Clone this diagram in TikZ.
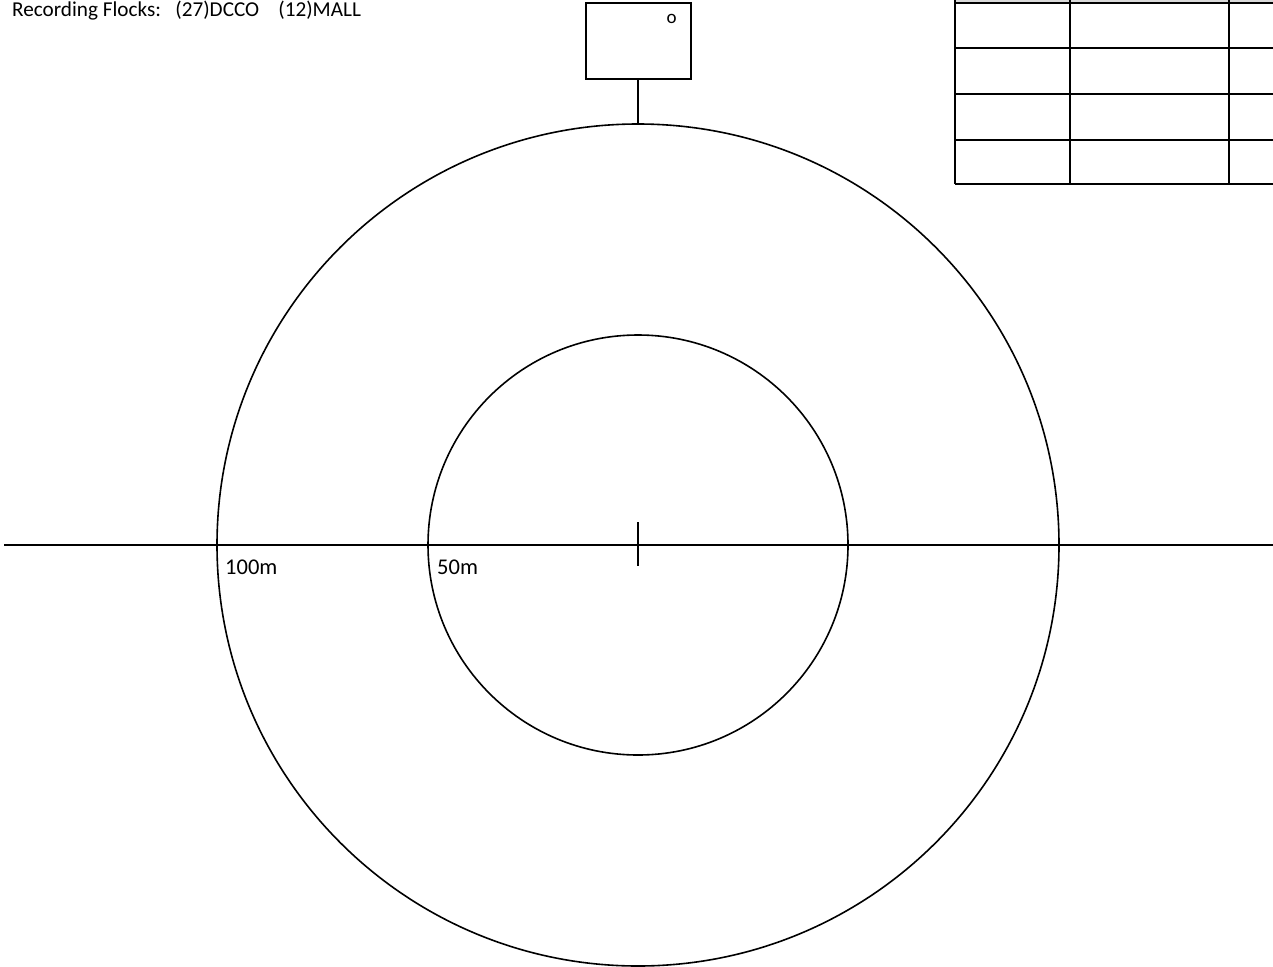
\documentclass[tikz,border=0pt]{standalone}
\usepackage{fontspec}
\setmainfont{Carlito}
\usetikzlibrary{positioning}

\begin{document}
\begin{tikzpicture}[
  x=1pt, y=-1pt,
  ring/.style={draw, circle, line width=1.6pt, inner sep=0pt, outer sep=0pt},
  label/.style={font=\fontsize{22.5}{26}\selectfont, anchor=base west, inner sep=0pt},
  cell/.style={line width=2pt}
]
\useasboundingbox (0,0) rectangle (1273,966);
\clip (0,0) rectangle (1273,966);

\node[label, font=\fontsize{21.2}{25}\selectfont] (title) at (12,16.5) {Recording Flocks:\ \ \ (27)DCCO\ \ \ \ (12)MALL};

% range rings
\node[ring, minimum size=842pt] (ring100) at (638,545) {};
\node[ring, minimum size=420pt] (ring50) at (638,545) {};

% axis and centre tick
\coordinate (axisW) at (4,545);
\coordinate (axisE) at (1273,545);
\coordinate (tickN) at (638,522);
\coordinate (tickS) at (638,566);
\draw[line width=2pt] (axisW) -- (axisE);
\draw[line width=2pt] (tickN) -- (tickS);

\node[label] (lab100) at (225,574) {100m};
\node[label] (lab50) at (437,574) {50m};

% observer box
\node[draw, line width=2pt, minimum width=105pt, minimum height=76pt, inner sep=0pt] (sensor) at (638,41) {};
\node[font=\fontsize{19}{22}\selectfont, anchor=base, inner sep=0pt] (mark) at (671.5,24) {o};
\draw[line width=2pt] (sensor.south) -- (ring100.north);

% table (cut off)
\fill[black!15] (955,0) rectangle (1273,3);
\foreach \r in {3,48,94,140,184}
  \draw[cell] (955,\r) -- (1274,\r);
\foreach \c in {955,1070,1229}
  \draw[cell] (\c,0) -- (\c,184);
\end{tikzpicture}
\end{document}
